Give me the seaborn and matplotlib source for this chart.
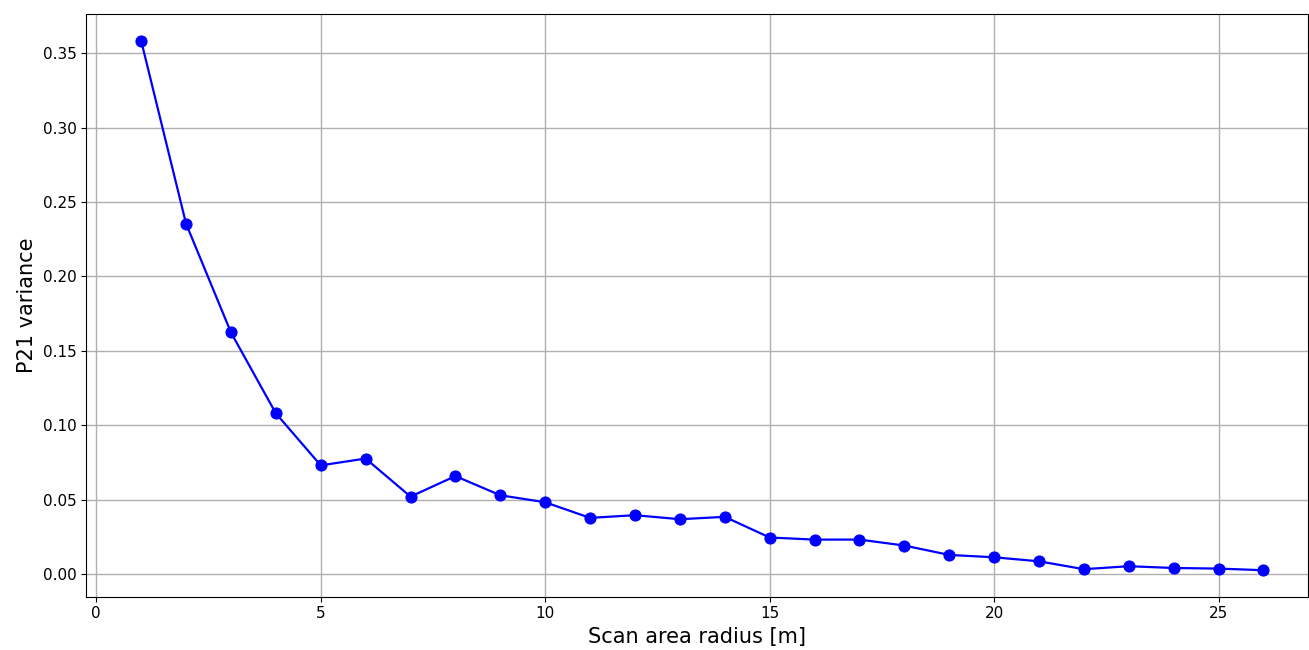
import numpy as np
import pandas as pd
import matplotlib
matplotlib.use("Agg")
import matplotlib.pyplot as plt
import seaborn as sns

# scan radius [m] and P21 variance
radius = list(range(1, 27))
p21_var = [0.3585, 0.2355, 0.1624, 0.1080, 0.0730, 0.0776, 0.0520, 0.0658,
           0.0529, 0.0482, 0.0377, 0.0395, 0.0368, 0.0384, 0.0245, 0.0231,
           0.0231, 0.0191, 0.0128, 0.0112, 0.0085, 0.0032, 0.0052, 0.0040,
           0.0036, 0.0025]

df = pd.DataFrame({"radius": radius, "var": p21_var})

fig, ax = plt.subplots(figsize=(13.09, 6.5), dpi=100)
sns.lineplot(data=df, x="radius", y="var", color="blue", marker="o",
             markersize=8, markeredgecolor="blue", linewidth=1.6, ax=ax)

ax.set_xlabel("Scan area radius [m]", fontsize=15)
ax.set_ylabel("P21 variance", fontsize=15)
ax.tick_params(labelsize=11)
ax.set_xticks([0, 5, 10, 15, 20, 25])
ax.set_xlim(-0.22, 27.0)
ax.grid(True, color="#b0b0b0", linewidth=1)
ax.set_axisbelow(True)

fig.subplots_adjust(left=0.066, right=0.9995, top=0.978, bottom=0.082)
fig.savefig("out.png", dpi=100)
